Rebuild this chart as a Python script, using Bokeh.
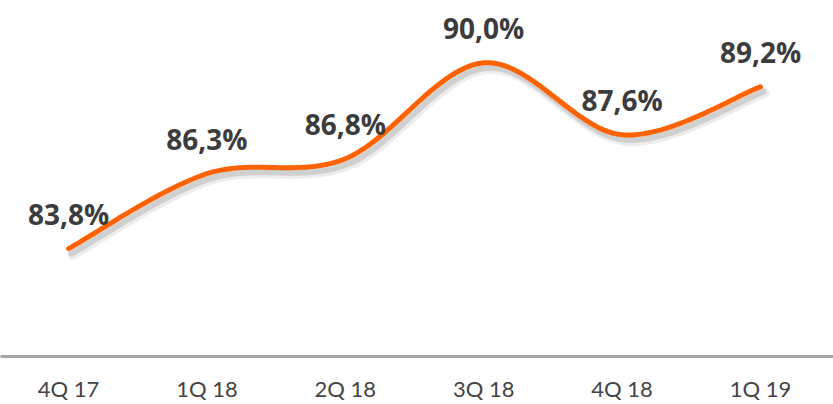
import numpy as np
from bokeh.plotting import figure
from bokeh.models import ColumnDataSource, Range1d, FixedTicker
from bokeh.core.properties import value
from bokeh.embed import file_html
from bokeh.resources import INLINE

categories = ["4Q 17", "1Q 18", "2Q 18", "3Q 18", "4Q 18", "1Q 19"]
values = [83.8, 86.3, 86.8, 90.0, 87.6, 89.2]
labels = ["83,8%", "86,3%", "86,8%", "90,0%", "87,6%", "89,2%"]

xs = np.arange(len(values), dtype=float)
ys = np.array(values, dtype=float)

# Catmull-Rom style smoothing (like spreadsheet "smoothed line")
def smooth(x, y, n=40):
    px, py = [], []
    N = len(x)
    for i in range(N - 1):
        x0, y0 = (x[i - 1], y[i - 1]) if i > 0 else (x[i], y[i])
        x1, y1 = x[i], y[i]
        x2, y2 = x[i + 1], y[i + 1]
        x3, y3 = (x[i + 2], y[i + 2]) if i + 2 < N else (x[i + 1], y[i + 1])
        c1x, c1y = x1 + (x2 - x0) / 6, y1 + (y2 - y0) / 6
        c2x, c2y = x2 - (x3 - x1) / 6, y2 - (y3 - y1) / 6
        t = np.linspace(0, 1, n)
        bx = (1-t)**3*x1 + 3*(1-t)**2*t*c1x + 3*(1-t)*t**2*c2x + t**3*x2
        by = (1-t)**3*y1 + 3*(1-t)**2*t*c1y + 3*(1-t)*t**2*c2y + t**3*y2
        px.extend(bx if i == 0 else bx[1:])
        py.extend(by if i == 0 else by[1:])
    return np.array(px), np.array(py)

sx, sy = smooth(xs, ys)

W, H = 833, 404
px_per_x = 138.4
x0_px = 68
frame_h = 354          # actual frame height after axis space
px_per_y = 29.8
y_start = 80.0 + (360 - frame_h) / px_per_y

p = figure(width=W, height=H, output_backend="svg", toolbar_location=None,
           x_range=Range1d(-x0_px / px_per_x, (W - x0_px) / px_per_x),
           y_range=Range1d(y_start, y_start + frame_h / px_per_y),
           min_border_left=0, min_border_right=0, min_border_top=0,
           min_border_bottom=H - 360)
p.outline_line_color = None
p.background_fill_color = "white"
p.border_fill_color = "white"
p.xgrid.visible = False
p.ygrid.visible = False
p.yaxis.visible = False

# shadow
p.line(sx + 4 / px_per_x, sy - 6 / px_per_y, line_color="black", line_alpha=0.07,
       line_width=10, line_cap="round")
p.line(sx + 3 / px_per_x, sy - 5 / px_per_y, line_color="black", line_alpha=0.12,
       line_width=6, line_cap="round")
# main line
p.line(sx, sy, line_color="#FF6200", line_width=5, line_cap="round")

src = ColumnDataSource(dict(x=xs, y=ys, t=labels))
p.text(x="x", y="y", text="t", source=src, text_align="center",
       text_baseline="alphabetic", y_offset=-35,
       text_font=value("Open Sans"), text_font_style="bold",
       text_font_size="28px", text_color="#3c3c3c")

ax = p.xaxis[0]
ax.ticker = FixedTicker(ticks=list(xs))
ax.major_label_overrides = {float(i): c for i, c in enumerate(categories)}
ax.major_label_overrides.update({int(i): c for i, c in enumerate(categories)})
ax.axis_line_color = "#a6a6a6"
ax.axis_line_width = 3
ax.major_tick_line_color = None
ax.minor_tick_line_color = None
ax.major_label_text_font = "Lato"
ax.major_label_text_font_size = "22px"
ax.major_label_text_color = "#444444"
ax.major_label_standoff = 12

open("out.html", "w").write(file_html(p, INLINE))
